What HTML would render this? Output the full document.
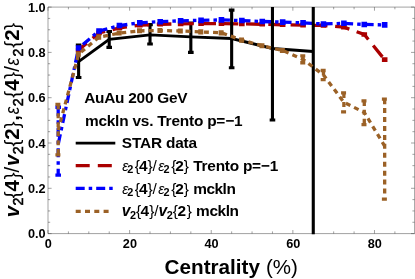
<!DOCTYPE html>
<html><head><meta charset="utf-8"><title>plot</title>
<style>
html,body{margin:0;padding:0;background:#fff;}
body{width:415px;height:279px;overflow:hidden;}
svg{display:block;will-change:transform;}
text{font-family:"Liberation Sans",sans-serif;fill:#000;}
.b{font-weight:bold;}
.i{font-style:italic;}
</style></head><body>
<svg width="415" height="279" viewBox="0 0 415 279">
<rect width="415" height="279" fill="#fff"/>
<defs><clipPath id="c"><rect x="48.0" y="7.10" width="369.0" height="227.10"/></clipPath></defs>
<g stroke="#444" stroke-width="0.5" fill="none">
<path d="M48.0,7.10H414.6V233.6H48.0Z"/>
<path d="M48.00,233.6v-3.6 M48.00,7.10v3.6 M68.41,233.6v-2.2 M68.41,7.10v2.2 M88.81,233.6v-2.2 M88.81,7.10v2.2 M109.22,233.6v-2.2 M109.22,7.10v2.2 M129.62,233.6v-3.6 M129.62,7.10v3.6 M150.03,233.6v-2.2 M150.03,7.10v2.2 M170.43,233.6v-2.2 M170.43,7.10v2.2 M190.84,233.6v-2.2 M190.84,7.10v2.2 M211.24,233.6v-3.6 M211.24,7.10v3.6 M231.65,233.6v-2.2 M231.65,7.10v2.2 M252.05,233.6v-2.2 M252.05,7.10v2.2 M272.46,233.6v-2.2 M272.46,7.10v2.2 M292.86,233.6v-3.6 M292.86,7.10v3.6 M313.27,233.6v-2.2 M313.27,7.10v2.2 M333.67,233.6v-2.2 M333.67,7.10v2.2 M354.08,233.6v-2.2 M354.08,7.10v2.2 M374.48,233.6v-3.6 M374.48,7.10v3.6 M394.89,233.6v-2.2 M394.89,7.10v2.2 M48.0,233.60h3.6 M414.6,233.60h-3.6 M48.0,222.28h2.2 M414.6,222.28h-2.2 M48.0,210.95h2.2 M414.6,210.95h-2.2 M48.0,199.62h2.2 M414.6,199.62h-2.2 M48.0,188.30h3.6 M414.6,188.30h-3.6 M48.0,176.97h2.2 M414.6,176.97h-2.2 M48.0,165.65h2.2 M414.6,165.65h-2.2 M48.0,154.32h2.2 M414.6,154.32h-2.2 M48.0,143.00h3.6 M414.6,143.00h-3.6 M48.0,131.68h2.2 M414.6,131.68h-2.2 M48.0,120.35h2.2 M414.6,120.35h-2.2 M48.0,109.02h2.2 M414.6,109.02h-2.2 M48.0,97.70h3.6 M414.6,97.70h-3.6 M48.0,86.38h2.2 M414.6,86.38h-2.2 M48.0,75.05h2.2 M414.6,75.05h-2.2 M48.0,63.72h2.2 M414.6,63.72h-2.2 M48.0,52.40h3.6 M414.6,52.40h-3.6 M48.0,41.07h2.2 M414.6,41.07h-2.2 M48.0,29.75h2.2 M414.6,29.75h-2.2 M48.0,18.42h2.2 M414.6,18.42h-2.2 M48.0,7.10h3.6 M414.6,7.10h-3.6 "/>
</g>
<g clip-path="url(#c)" fill="none">
<path d="M78.61,61.64 L109.22,39.40 L150.03,34.86 L190.84,36.90 L231.65,38.49 L272.46,48.48 L313.27,51.43" stroke="#000" stroke-width="2.9" stroke-linejoin="miter"/>
<path d="M78.61,45.07L78.61,77.52 M75.81,77.52L81.41,77.52 M75.81,45.07L81.41,45.07 M109.22,31.46L109.22,47.34 M106.42,47.34L112.02,47.34 M106.42,31.46L112.02,31.46 M150.03,24.65L150.03,43.94 M147.22,43.94L152.83,43.94 M147.22,24.65L152.83,24.65 M190.84,23.06L190.84,52.33 M188.03,52.33L193.64,52.33 M188.03,23.06L193.64,23.06 " stroke="#000" stroke-width="3.1"/>
<path d="M78.61,49.91 L99.01,32.89 L119.42,27.90 L139.82,25.18 L160.23,24.27 L180.63,23.82 L201.04,23.59 L221.44,23.59 L241.85,23.82 L262.25,24.27 L282.66,24.73 L303.06,25.18 L323.47,25.41 L343.87,27.22 L364.28,34.48 L384.68,59.67" stroke="#aa0000" stroke-width="3.3" stroke-dasharray="14.6 7.7" stroke-dashoffset="4.03"/>
<path d="M78.61,48.93L78.61,50.29 M75.81,50.29L81.41,50.29 M75.81,48.93L81.41,48.93 M99.01,31.91L99.01,33.27 M96.21,33.27L101.81,33.27 M96.21,31.91L101.81,31.91 M119.42,26.92L119.42,28.28 M116.62,28.28L122.22,28.28 M116.62,26.92L122.22,26.92 M139.82,24.20L139.82,25.56 M137.02,25.56L142.62,25.56 M137.02,24.20L142.62,24.20 M160.23,23.29L160.23,24.65 M157.43,24.65L163.03,24.65 M157.43,23.29L163.03,23.29 M180.63,22.84L180.63,24.20 M177.83,24.20L183.43,24.20 M177.83,22.84L183.43,22.84 M201.04,22.61L201.04,23.97 M198.24,23.97L203.84,23.97 M198.24,22.61L203.84,22.61 M221.44,22.61L221.44,23.97 M218.64,23.97L224.24,23.97 M218.64,22.61L224.24,22.61 M241.85,22.84L241.85,24.20 M239.05,24.20L244.65,24.20 M239.05,22.84L244.65,22.84 M262.25,23.29L262.25,24.65 M259.45,24.65L265.05,24.65 M259.45,23.29L265.05,23.29 M282.66,23.74L282.66,25.11 M279.86,25.11L285.46,25.11 M279.86,23.74L285.46,23.74 M303.06,24.20L303.06,25.56 M300.26,25.56L305.86,25.56 M300.26,24.20L305.86,24.20 M323.47,24.43L323.47,25.79 M320.67,25.79L326.27,25.79 M320.67,24.43L326.27,24.43 M343.87,26.24L343.87,27.60 M341.07,27.60L346.67,27.60 M341.07,26.24L346.67,26.24 M364.28,33.50L364.28,34.86 M361.48,34.86L367.08,34.86 M361.48,33.50L367.08,33.50 M384.68,58.69L384.68,60.05 M381.88,60.05L387.48,60.05 M381.88,58.69L387.48,58.69 " transform="translate(0,0.3)" stroke="#aa0000" stroke-width="3.3"/>
<path d="M58.20,144.23 L78.61,48.02 L99.01,31.01 L119.42,25.56 L139.82,22.84 L160.23,21.70 L180.63,20.79 L201.04,20.34 L221.44,19.89 L241.85,20.57 L262.25,21.48 L282.66,22.16 L303.06,22.84 L323.47,23.97 L343.87,23.29 L364.28,24.43 L384.68,24.88" stroke="#0000ff" stroke-width="3.3" stroke-dasharray="9 4.05 3.5 4" stroke-dashoffset="19.35"/>
<path d="M58.20,107.24L58.20,175.20 M55.40,175.20L61.00,175.20 M55.40,107.24L61.00,107.24 M78.61,46.89L78.61,49.16 M75.81,49.16L81.41,49.16 M75.81,46.89L81.41,46.89 M99.01,29.87L99.01,32.14 M96.21,32.14L101.81,32.14 M96.21,29.87L101.81,29.87 M119.42,24.43L119.42,26.69 M116.62,26.69L122.22,26.69 M116.62,24.43L122.22,24.43 M139.82,21.70L139.82,23.97 M137.02,23.97L142.62,23.97 M137.02,21.70L142.62,21.70 M160.23,20.57L160.23,22.84 M157.43,22.84L163.03,22.84 M157.43,20.57L163.03,20.57 M180.63,19.66L180.63,21.93 M177.83,21.93L183.43,21.93 M177.83,19.66L183.43,19.66 M201.04,19.21L201.04,21.48 M198.24,21.48L203.84,21.48 M198.24,19.21L203.84,19.21 M221.44,18.75L221.44,21.02 M218.64,21.02L224.24,21.02 M218.64,18.75L224.24,18.75 M241.85,19.43L241.85,21.70 M239.05,21.70L244.65,21.70 M239.05,19.43L244.65,19.43 M262.25,20.34L262.25,22.61 M259.45,22.61L265.05,22.61 M259.45,20.34L265.05,20.34 M282.66,21.02L282.66,23.29 M279.86,23.29L285.46,23.29 M279.86,21.02L285.46,21.02 M303.06,21.70L303.06,23.97 M300.26,23.97L305.86,23.97 M300.26,21.70L305.86,21.70 M323.47,22.84L323.47,25.11 M320.67,25.11L326.27,25.11 M320.67,22.84L326.27,22.84 M343.87,22.16L343.87,24.43 M341.07,24.43L346.67,24.43 M341.07,22.16L346.67,22.16 M364.28,23.29L364.28,25.56 M361.48,25.56L367.08,25.56 M361.48,23.29L367.08,23.29 M384.68,23.74L384.68,26.01 M381.88,26.01L387.48,26.01 M381.88,23.74L387.48,23.74 " stroke="#0000ff" stroke-width="3.3" stroke-dasharray="9 4 3.5 4"/>
<path d="M231.65,10.13L231.65,67.76 M228.84,67.76L234.45,67.76 M228.84,10.13L234.45,10.13 M272.46,-38.88L272.46,119.95 M269.66,119.95L275.26,119.95 M269.66,-38.88L275.26,-38.88 M313.27,-38.88L313.27,278.78 M310.47,278.78L316.07,278.78 M310.47,-38.88L316.07,-38.88 " stroke="#000" stroke-width="3.1"/>
<path d="M58.20,130.16 L78.61,54.15 L99.01,37.13 L119.42,33.05 L139.82,30.78 L160.23,30.55 L180.63,31.01 L201.04,31.91 L221.44,32.82 L241.85,40.08 L262.25,45.75 L282.66,50.52 L303.06,59.37 L323.47,75.02 L343.87,102.25 L364.28,112.46 L384.68,146.04" stroke="#9b6126" stroke-width="3.3" stroke-dasharray="5 4.2" stroke-dashoffset="0.91"/>
<path d="M58.20,104.41L58.20,154.89 M55.40,154.89L61.00,154.89 M55.40,104.41L61.00,104.41 M78.61,53.24L78.61,55.06 M75.81,55.06L81.41,55.06 M75.81,53.24L81.41,53.24 M99.01,36.22L99.01,38.04 M96.21,38.04L101.81,38.04 M96.21,36.22L101.81,36.22 M119.42,32.14L119.42,33.95 M116.62,33.95L122.22,33.95 M116.62,32.14L122.22,32.14 M139.82,29.87L139.82,31.69 M137.02,31.69L142.62,31.69 M137.02,29.87L142.62,29.87 M160.23,29.64L160.23,31.46 M157.43,31.46L163.03,31.46 M157.43,29.64L163.03,29.64 M180.63,30.10L180.63,31.91 M177.83,31.91L183.43,31.91 M177.83,30.10L183.43,30.10 M201.04,31.01L201.04,32.82 M198.24,32.82L203.84,32.82 M198.24,31.01L203.84,31.01 M221.44,31.91L221.44,33.73 M218.64,33.73L224.24,33.73 M218.64,31.91L224.24,31.91 M241.85,39.17L241.85,40.99 M239.05,40.99L244.65,40.99 M239.05,39.17L244.65,39.17 M262.25,44.85L262.25,46.66 M259.45,46.66L265.05,46.66 M259.45,44.85L265.05,44.85 M282.66,49.61L282.66,51.43 M279.86,51.43L285.46,51.43 M279.86,49.61L285.46,49.61 M303.06,55.96L303.06,62.77 M300.26,62.77L305.86,62.77 M300.26,55.96L305.86,55.96 M323.47,70.49L323.47,79.56 M320.67,79.56L326.27,79.56 M320.67,70.49L326.27,70.49 M343.87,92.95L343.87,111.78 M341.07,111.78L346.67,111.78 M341.07,92.95L346.67,92.95 M364.28,100.89L364.28,124.60 M361.48,124.60L367.08,124.60 M361.48,100.89L367.08,100.89 M384.68,99.19L384.68,199.14 M381.88,199.14L387.48,199.14 M381.88,99.19L387.48,99.19 " stroke="#9b6126" stroke-width="3.3" stroke-dasharray="5 3.93"/>
</g>
<g class="b" font-size="12.7" text-anchor="middle">
<text x="48.3" y="247.5">0</text>
<text x="129.9" y="247.5">20</text>
<text x="211.5" y="247.5">40</text>
<text x="293.2" y="247.5">60</text>
<text x="374.8" y="247.5">80</text>
</g>
<g class="b" font-size="12.7" text-anchor="end">
<text x="45.6" y="238.1">0.0</text>
<text x="45.6" y="192.8">0.2</text>
<text x="45.6" y="147.5">0.4</text>
<text x="45.6" y="102.2">0.6</text>
<text x="45.6" y="56.9">0.8</text>
<text x="45.6" y="11.6">1.0</text>
</g>
<text class="b" x="164.6" y="273.5" font-size="20.7">Centrality</text>
<text x="265.93" y="273.5" font-size="20.5">(%)</text>
<g transform="translate(19.4,216.1) rotate(-90)"><text class="b i" x="-1.10" y="0.00" font-size="20.5">v</text><text x="10.58" y="3.60" font-size="14.3" stroke="#000" stroke-width="0.55">2</text><text x="17.76" y="0.00" font-size="20.5">{</text><text class="b" x="24.59" y="0.00" font-size="20.5">4</text><text x="36.86" y="0.00" font-size="20.5">}</text><text x="43.60" y="0.00" font-size="20.5">/</text><text class="b i" x="50.10" y="0.00" font-size="20.5">v</text><text x="61.98" y="3.60" font-size="14.3" stroke="#000" stroke-width="0.55">2</text><text x="69.66" y="0.00" font-size="20.5">{</text><text class="b" x="76.29" y="0.00" font-size="20.5">2</text><text x="87.96" y="0.00" font-size="20.5">}</text><text class="b" x="95.31" y="0.00" font-size="20.5">,</text><text class="i" transform="translate(101.92,0.00) scale(0.82,1)" font-size="20.5">ε</text><text x="109.78" y="3.60" font-size="14.3" stroke="#000" stroke-width="0.55">2</text><text x="118.36" y="0.00" font-size="20.5">{</text><text class="b" x="125.39" y="0.00" font-size="20.5">4</text><text x="137.36" y="0.00" font-size="20.5">}</text><text x="144.30" y="0.00" font-size="20.5">/</text><text class="i" transform="translate(150.72,0.00) scale(0.82,1)" font-size="20.5">ε</text><text x="159.68" y="3.60" font-size="14.3" stroke="#000" stroke-width="0.55">2</text><text x="168.26" y="0.00" font-size="20.5">{</text><text class="b" x="175.39" y="0.00" font-size="20.5">2</text><text x="186.26" y="0.00" font-size="20.5">}</text></g>
<g font-size="15.4" class="b">
<text x="84.2" y="102.8" textLength="103.4" lengthAdjust="spacing">AuAu 200 GeV</text>
<text x="84.9" y="125.8" textLength="157.6" lengthAdjust="spacing">mckln vs. Trento p=−1</text>
<text x="121.8" y="148.0" textLength="75.3" lengthAdjust="spacing">STAR data</text>
<text x="193.2" y="170.9" textLength="85.0" lengthAdjust="spacing">Trento p=−1</text>
<text x="193.2" y="193.6" textLength="42.6" lengthAdjust="spacing">mckln</text>
<text x="196.1" y="216.3" textLength="42.9" lengthAdjust="spacing">mckln</text>
</g>
<text class="i" x="122.37" y="170.90" font-size="14.0">ε</text><text class="b" x="127.32" y="173.25" font-size="10.9">2</text><text x="134.74" y="170.90" font-size="15.4">{</text><text class="b" x="139.07" y="170.90" font-size="15.4">4</text><text x="147.44" y="170.90" font-size="15.4">}</text><text x="152.50" y="170.90" font-size="15.4">/</text><text class="i" x="158.17" y="170.90" font-size="14.0">ε</text><text class="b" x="163.62" y="173.25" font-size="10.9">2</text><text x="171.14" y="170.90" font-size="15.4">{</text><text class="b" x="175.37" y="170.90" font-size="15.4">2</text><text x="183.74" y="170.90" font-size="15.4">}</text>
<text class="i" x="122.37" y="193.60" font-size="14.0">ε</text><text class="b" x="127.32" y="195.95" font-size="10.9">2</text><text x="134.74" y="193.60" font-size="15.4">{</text><text class="b" x="139.07" y="193.60" font-size="15.4">4</text><text x="147.44" y="193.60" font-size="15.4">}</text><text x="152.50" y="193.60" font-size="15.4">/</text><text class="i" x="158.17" y="193.60" font-size="14.0">ε</text><text class="b" x="163.62" y="195.95" font-size="10.9">2</text><text x="171.14" y="193.60" font-size="15.4">{</text><text class="b" x="175.37" y="193.60" font-size="15.4">2</text><text x="183.74" y="193.60" font-size="15.4">}</text>
<text class="b i" x="121.86" y="216.30" font-size="15.6">v</text><text class="b" x="129.92" y="218.65" font-size="10.9">2</text><text x="135.94" y="216.30" font-size="15.4">{</text><text class="b" x="140.57" y="216.30" font-size="15.4">4</text><text x="149.14" y="216.30" font-size="15.4">}</text><text x="154.20" y="216.30" font-size="15.4">/</text><text class="b i" x="158.46" y="216.30" font-size="15.6">v</text><text class="b" x="166.82" y="218.65" font-size="10.9">2</text><text x="172.74" y="216.30" font-size="15.4">{</text><text class="b" x="177.57" y="216.30" font-size="15.4">2</text><text x="186.64" y="216.30" font-size="15.4">}</text>
<g fill="none">
<path d="M75.7,143.1H115.3" stroke="#000" stroke-width="2.9"/>
<path d="M75.7,165.7H115.3" stroke="#aa0000" stroke-width="3.3" stroke-dasharray="14 8.1"/>
<path d="M75.7,188.3H113" stroke="#0000ff" stroke-width="3.3" stroke-dasharray="9 4 3.5 4"/>
<path d="M75.7,211.3H109" stroke="#9b6126" stroke-width="3.3" stroke-dasharray="5 4.3"/>
</g>
</svg>
</body></html>
